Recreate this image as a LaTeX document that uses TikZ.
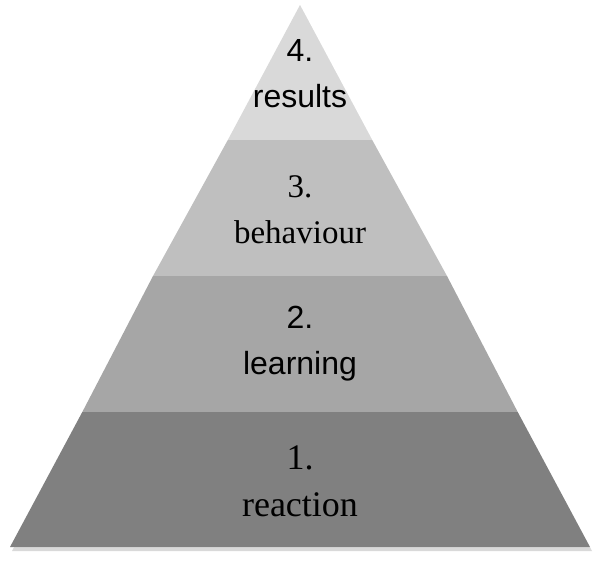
\documentclass[tikz,border=0pt]{standalone}
\usepackage{fontspec}
\setmainfont{Liberation Serif}
\setsansfont{Liberation Sans}
\usetikzlibrary{shadows}

\definecolor{top}{HTML}{D9D9D9}
\definecolor{upper}{HTML}{BFBFBF}
\definecolor{lower}{HTML}{A6A6A6}
\definecolor{bottom}{HTML}{808080}

\begin{document}
\begin{tikzpicture}[x=1pt,y=-1pt,semithick]
            \tikzstyle{sanslabel}=[align=center,font=\sffamily\fontsize{32}{46}\selectfont]
            \tikzstyle{seriflabel}=[align=center,font=\rmfamily\fontsize{33}{46}\selectfont]

            \useasboundingbox (0,0) rectangle (600,562);

            % corners of the layers
            \coordinate (T)  at (300,5);
            \coordinate (L4) at (227.8,140); \coordinate (R4) at (372.2,140);
            \coordinate (L3) at (153,276);   \coordinate (R3) at (447,276);
            \coordinate (L2) at (82.3,412);  \coordinate (R2) at (517.7,412);
            \coordinate (L1) at (10,547);    \coordinate (R1) at (590,547);

            \fill[white, drop shadow={shadow xshift=2pt, shadow yshift=-4pt, opacity=.3}]
                (T) -- (R1) -- (L1) -- cycle;

            \fill[top]    (T) -- (R4) -- (L4) -- cycle;
            \fill[upper]  (L4) -- (R4) -- (R3) -- (L3) -- cycle;
            \fill[lower]  (L3) -- (R3) -- (R2) -- (L2) -- cycle;
            \fill[bottom] (L2) -- (R2) -- (R1) -- (L1) -- cycle;

            \node[sanslabel]  (Res) at (300,74)  {4.\\results};
            \node[seriflabel] (Beh) at (300,210) {3.\\behaviour};
            \node[sanslabel]  (Lea) at (300,344) {2.\\learning};
            \node[seriflabel, font=\rmfamily\fontsize{36}{47}\selectfont]
                              (Rea) at (300,481) {1.\\reaction};

        \end{tikzpicture}
\end{document}
